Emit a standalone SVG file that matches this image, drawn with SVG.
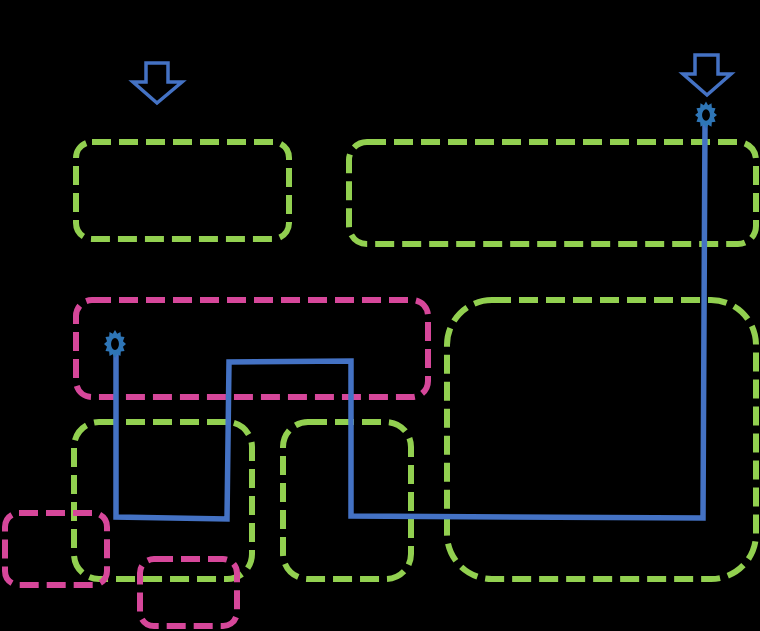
<svg xmlns="http://www.w3.org/2000/svg" width="760" height="631" viewBox="0 0 760 631">
<style>
.g{fill:none;stroke:#92D050;stroke-width:6;stroke-dasharray:19 8}
.p{fill:none;stroke:#D6479A;stroke-width:6;stroke-dasharray:19 8}
.arr{fill:none;stroke:#4472C4;stroke-width:3.5;stroke-linejoin:miter}
.wire{fill:none;stroke:#4472C4;stroke-width:5.5;stroke-linejoin:miter}
.star{fill:#2E75B6;fill-rule:evenodd}
</style>
<defs>
<path id="burst" class="star" d="M0,-10 L1.94,-7.24 L5,-8.66 L5.3,-5.3 L8.66,-5 L7.24,-1.94 L10,0 L7.24,1.94 L8.66,5 L5.3,5.3 L5,8.66 L1.94,7.24 L0,10 L-1.94,7.24 L-5,8.66 L-5.3,5.3 L-8.66,5 L-7.24,1.94 L-10,0 L-7.24,-1.94 L-8.66,-5 L-5.3,-5.3 L-5,-8.66 L-1.94,-7.24 Z M0,-4.3 A3.6,4.3 0 1,0 0,4.3 A3.6,4.3 0 1,0 0,-4.3 Z"/>
</defs>
<rect width="760" height="631" fill="#000"/>
<g id="box-top-left"><rect class="g" x="76" y="142" width="213" height="97" rx="16"/></g>
<g id="box-top-right"><rect class="g" x="349" y="142" width="407" height="102" rx="18"/></g>
<g id="box-right-large"><rect class="g" x="447" y="300" width="309" height="279" rx="45"/></g>
<g id="box-bottom-left"><rect class="g" x="74" y="422" width="178" height="157" rx="25"/></g>
<g id="box-bottom-mid"><rect class="g" x="283" y="422" width="128" height="157" rx="25"/></g>
<g id="box-pink-mid"><rect class="p" x="76" y="300" width="352" height="97" rx="16"/></g>
<g id="box-pink-small-left"><rect class="p" x="5" y="513" width="102" height="72" rx="14"/></g>
<g id="box-pink-small-bottom"><rect class="p" x="140" y="559" width="97" height="67" rx="14"/></g>
<g id="arrow-left"><path class="arr" d="M146,63 L168,63 L168,82 L182,82 L157,103 L133,82 L146,82 Z"/></g>
<g id="arrow-right"><path class="arr" d="M695,55 L718,55 L718,74 L731,74 L707,95 L683,74 L695,74 Z"/></g>
<g id="connectors">
<path class="wire" d="M116,350 L116,517 L227,519 L229,362 L351,361 L351,516 L703,518 L705,122"/>
</g>
<g id="marker-start"><use href="#burst" transform="translate(115,344) scale(1.1,1.4)"/></g>
<g id="marker-end"><use href="#burst" transform="translate(706,115) scale(1.1,1.35)"/></g>
</svg>
